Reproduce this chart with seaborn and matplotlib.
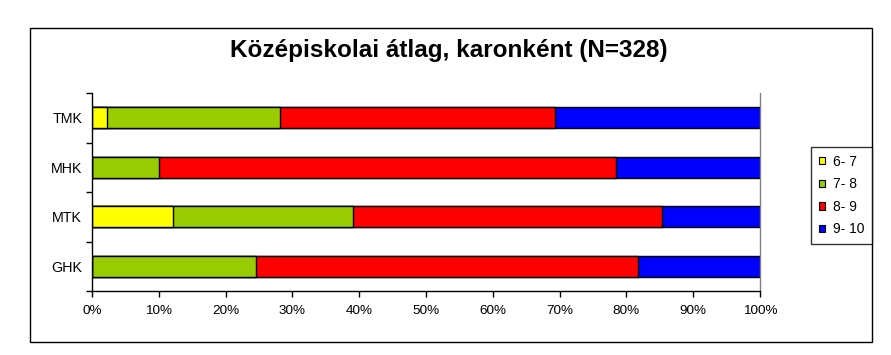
import matplotlib.pyplot as plt
import numpy as np
import pandas as pd
import seaborn as sns
from matplotlib.patches import Patch, Rectangle
from matplotlib.ticker import FixedLocator, PercentFormatter

faculties = ['TMK', 'MHK', 'MTK', 'GHK']
grades = ['6- 7', '7- 8', '8- 9', '9- 10']
colors = ['#FFFF00', '#99CC00', '#FF0000', '#0000FF']

# percentage of students per grade band, per faculty
share_6_7 = [2.3, 0.0, 12.1, 0.0]
share_7_8 = [25.9, 10.0, 27.0, 24.6]
share_8_9 = [41.1, 68.4, 46.2, 57.1]
share_9_10 = [30.7, 21.6, 14.7, 18.3]

if __name__ == '__main__':
    sns.set_style('white')
    plt.rcParams['font.family'] = ['Liberation Sans', 'DejaVu Sans']
    plt.rcParams['text.color'] = 'black'
    plt.rcParams['xtick.color'] = 'black'
    plt.rcParams['ytick.color'] = 'black'
    plt.rcParams['xtick.labelcolor'] = 'black'
    plt.rcParams['ytick.labelcolor'] = 'black'

    shares = np.array([share_6_7, share_7_8, share_8_9, share_9_10])
    cum = shares.cumsum(axis=0)
    df = pd.DataFrame({'faculty': faculties})
    for g, c in zip(grades, cum):
        df[g] = c

    fig = plt.figure(figsize=(8.91, 3.55), dpi=100)
    ax = fig.add_axes([92 / 891, 1 - 291 / 355, 668 / 891, 198 / 355])

    # draw cumulative bars from the longest to the shortest so they stack
    for g, col in reversed(list(zip(grades, colors))):
        sns.barplot(data=df, x=g, y='faculty', order=faculties, orient='h',
                    color=col, saturation=1, width=0.42,
                    edgecolor='black', linewidth=1, ax=ax)

    ax.set_xlim(0, 100)
    ax.set_ylim(3.5, -0.5)
    ax.set_xlabel('')
    ax.set_ylabel('')
    ax.xaxis.set_major_locator(FixedLocator(np.arange(0, 101, 10)))
    ax.xaxis.set_major_formatter(PercentFormatter(decimals=0))
    ax.tick_params(axis='x', direction='out', length=4, width=1, pad=6,
                   labelsize=9.7, bottom=True, color='black')

    ax.yaxis.set_major_locator(FixedLocator([-0.5, 0.5, 1.5, 2.5, 3.5]))
    ax.yaxis.set_major_formatter(plt.NullFormatter())
    ax.yaxis.set_minor_locator(FixedLocator(range(len(faculties))))
    ax.yaxis.set_minor_formatter(plt.FixedFormatter(faculties))
    ax.tick_params(axis='y', which='major', direction='out', length=4,
                   width=1, left=True, color='black')
    ax.tick_params(axis='y', which='minor', length=0, pad=7, labelsize=10.3)

    for side in ['left', 'bottom']:
        ax.spines[side].set_color('black')
        ax.spines[side].set_linewidth(1)
    ax.spines['top'].set_visible(False)
    ax.spines['right'].set_color('#808080')
    ax.spines['right'].set_linewidth(1)

    handles = [Patch(facecolor=c, edgecolor='black', linewidth=0.8, label=g)
               for g, c in zip(grades, colors)]
    fig.legend(handles=handles, loc='upper left',
               bbox_to_anchor=(811 / 891, 1 - 147 / 355),
               frameon=True, fancybox=False, edgecolor='black',
               fontsize=10, handlelength=0.45, handleheight=0.45,
               handletextpad=0.6, labelspacing=0.62, borderpad=0.55,
               borderaxespad=0)
    fig.legends[0].get_frame().set_linewidth(1)

    fig.text(449 / 891, 1 - 57.5 / 355, 'Középiskolai átlag, karonként (N=328)',
             ha='center', va='baseline', fontsize=17.5, fontweight='bold')

    fig.patches.append(Rectangle((30 / 891, 1 - 342 / 355), 842 / 891,
                                 314 / 355, transform=fig.transFigure,
                                 fill=False, edgecolor='black', linewidth=1))

    fig.savefig('out.png', dpi=100)
    plt.close()
